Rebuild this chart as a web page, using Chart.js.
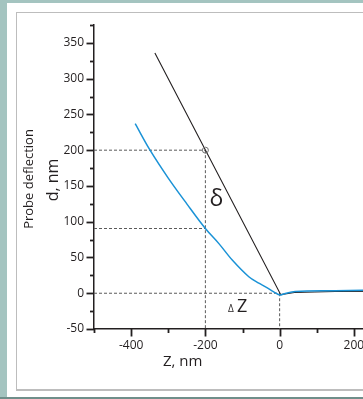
<!DOCTYPE html>
<html>
<head>
<meta charset="utf-8">
<script src="https://cdn.jsdelivr.net/npm/chart.js@4/dist/chart.umd.min.js"></script>
<style>
  html, body { margin: 0; padding: 0; width: 363px; height: 399px; overflow: hidden; background: #a4c4c0; }
  #sheet { position: absolute; left: 7px; top: 3px; width: 420px; height: 394px; background: #ffffff; }
  #edge { position: absolute; left: 0; top: 397px; width: 363px; height: 2px; background: #6f8e8a; }
  #frame { position: absolute; left: 16px; top: 12px; width: 420px; height: 376px;
           border-top: 1px solid #bdbdbd; border-left: 1px solid #bdbdbd; border-bottom: 2px solid #bdbdbd; }
  #plot { position: absolute; left: 0; top: 0; }
</style>
</head>
<body>
<div id="sheet"></div>
<div id="edge"></div>
<div id="frame"></div>
<canvas id="plot" width="400" height="399"></canvas>
<script>
// Approach curve (black) and retract curve (blue): probe deflection d vs. piezo position Z
const approachZ = [-336, 3, 40, 150, 300];
const approachD = [336, -2, 1, 2.5, 3];

const retractZ = [-389, -349, -300, -250, -200, -163, -127, -83, -56, -38, -16, 0, 11, 42, 150, 300];
const retractD = [237, 200, 161, 125, 90.5, 69, 46, 23, 14, 9, 2, -2.5, -1, 2.5, 3.5, 4.5];

// Reference point on the approach curve and the matching retract deflection
const markZ = -200;
const markD = 200;
const retractAtMarkD = 90.5;

// Axis ranges and tick spacing
const zRange = [-500, 300];
const dRange = [-50, 375];
const zLabelStep = 200, zMinorStep = 100;
const dLabelStep = 50, dMinorStep = 25;

const ink = '#231f20';
const guide = '#5a5a5a';
const blue = '#1a92d6';

const pts = (xs, ys) => xs.map((x, i) => ({ x, y: ys[i] }));

const guideSet = (data) => ({
  data, borderColor: guide, borderWidth: 1, borderDash: [3, 2],
  pointRadius: 0, tension: 0, order: 5
});

// Tick marks: long at labelled values, short in between
const tickMarks = {
  id: 'tickMarks',
  afterDraw(chart) {
    const { ctx } = chart;
    const xs = chart.scales.x, ys = chart.scales.y;
    const area = chart.chartArea;
    ctx.save();
    ctx.strokeStyle = ink;
    ctx.lineWidth = 1.8;
    for (let v = dRange[0]; v <= dRange[1]; v += dMinorStep) {
      const y = Math.round(ys.getPixelForValue(v)) + 0.5;
      const len = v % dLabelStep === 0 ? 7.5 : 4;
      ctx.beginPath(); ctx.moveTo(area.left, y); ctx.lineTo(area.left - len, y); ctx.stroke();
    }
    for (let v = zRange[0]; v <= zRange[1]; v += zMinorStep) {
      const x = Math.round(xs.getPixelForValue(v)) + 0.5;
      const len = v % zLabelStep === 0 ? 7.5 : 4;
      ctx.beginPath(); ctx.moveTo(x, area.bottom); ctx.lineTo(x, area.bottom + len); ctx.stroke();
    }
    ctx.restore();
  }
};

// Axis titles and the δ / ΔZ annotations
const captions = {
  id: 'captions',
  afterDraw(chart) {
    const { ctx } = chart;
    const xs = chart.scales.x, ys = chart.scales.y;
    ctx.save();
    ctx.fillStyle = ink;
    ctx.textBaseline = 'alphabetic';

    // y title, two rotated lines
    ctx.save();
    ctx.translate(33, 179);
    ctx.rotate(-Math.PI / 2);
    ctx.textAlign = 'center';
    ctx.font = '13px "Open Sans"';
    ctx.fillText('Probe deflection', 0, 0);
    ctx.restore();

    ctx.save();
    ctx.translate(58, 180);
    ctx.rotate(-Math.PI / 2);
    ctx.textAlign = 'center';
    ctx.font = '16px "Open Sans"';
    ctx.fillText('d, nm', 0, 0);
    ctx.restore();

    // x title
    ctx.textAlign = 'left';
    ctx.font = '15px "Open Sans"';
    ctx.fillText('Z, nm', 163, 366);

    // δ between the two curves at Z = markZ
    ctx.font = '23px "Open Sans"';
    ctx.textAlign = 'center';
    ctx.fillText('δ', xs.getPixelForValue(markZ) + 11, ys.getPixelForValue(135) + 9);

    // ΔZ below the zero line
    ctx.textAlign = 'left';
    ctx.font = '10px "Open Sans"';
    ctx.fillText('Δ', 228, 312);
    ctx.font = '18px "Open Sans"';
    ctx.fillText('Z', 237, 312);
    ctx.restore();
  }
};

const labelFont = { family: '"Open Sans"', size: 12 };

new Chart(document.getElementById('plot'), {
  type: 'line',
  data: {
    datasets: [
      guideSet([{ x: zRange[0], y: markD }, { x: markZ, y: markD }]),
      guideSet([{ x: zRange[0], y: retractAtMarkD }, { x: markZ, y: retractAtMarkD }]),
      guideSet([{ x: markZ, y: markD }, { x: markZ, y: dRange[0] }]),
      guideSet([{ x: zRange[0], y: 0 }, { x: 0, y: 0 }]),
      guideSet([{ x: 0, y: 0 }, { x: 0, y: dRange[0] }]),
      {
        data: pts(approachZ, approachD),
        borderColor: ink, borderWidth: 1.1, pointRadius: 0, tension: 0, order: 2
      },
      {
        data: pts(retractZ, retractD),
        borderColor: blue, borderWidth: 1.5, pointRadius: 0,
        tension: 0.35, order: 1
      },
      {
        data: [{ x: markZ, y: markD }],
        showLine: false, pointRadius: 3, pointStyle: 'circle',
        pointBorderColor: '#707070', pointBackgroundColor: 'rgba(0,0,0,0)',
        pointBorderWidth: 1, order: 0
      }
    ]
  },
  options: {
    responsive: false,
    animation: false,
    devicePixelRatio: 1,
    layout: { padding: { top: 25, right: 6, bottom: 0, left: 0 } },
    plugins: { legend: { display: false }, tooltip: { enabled: false } },
    scales: {
      x: {
        type: 'linear', min: zRange[0], max: zRange[1],
        afterFit(scale) { scale.height = 70; },
        border: { display: true, color: ink, width: 1.5 },
        grid: { display: true, drawOnChartArea: false, drawTicks: false },
        ticks: {
          stepSize: zMinorStep, autoSkip: false, maxRotation: 0, padding: 9,
          color: ink, font: labelFont,
          callback: (v) => (v % zLabelStep === 0 ? String(v) : '')
        }
      },
      y: {
        type: 'linear', min: dRange[0], max: dRange[1],
        afterFit(scale) { scale.width = 94; },
        border: { display: true, color: ink, width: 1.5 },
        grid: { display: true, drawOnChartArea: false, drawTicks: false },
        ticks: {
          stepSize: dMinorStep, autoSkip: false, padding: 10,
          color: ink, font: labelFont,
          callback: (v) => (v % dLabelStep === 0 ? String(v) : '')
        }
      }
    }
  },
  plugins: [tickMarks, captions]
});
</script>
</body>
</html>
